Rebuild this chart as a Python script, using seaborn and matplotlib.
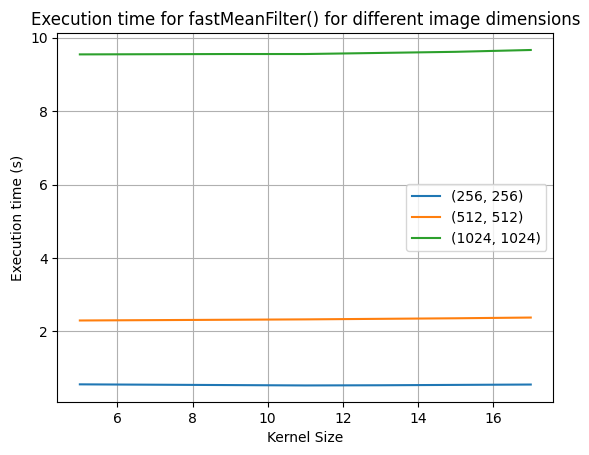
import matplotlib
matplotlib.use("Agg")
import matplotlib.pyplot as plt
import seaborn as sns
import pandas as pd

kernel_sizes = [5, 7, 9, 11, 13, 15, 17]
dimensions = ["(256, 256)", "(512, 512)", "(1024, 1024)"]
times_256 = [0.56, 0.55, 0.54, 0.53, 0.535, 0.545, 0.555]
times_512 = [2.30, 2.31, 2.32, 2.33, 2.345, 2.36, 2.38]
times_1024 = [9.55, 9.555, 9.56, 9.56, 9.59, 9.62, 9.67]

rows = []
for dim, vals in zip(dimensions, [times_256, times_512, times_1024]):
    for k, t in zip(kernel_sizes, vals):
        rows.append({"Kernel Size": k, "time": t, "dim": dim})
df = pd.DataFrame(rows)

fig, ax = plt.subplots(figsize=(5.89, 4.55), dpi=100)
fig.subplots_adjust(left=0.0973, right=0.9394, top=0.927, bottom=0.116)

sns.lineplot(data=df, x="Kernel Size", y="time", hue="dim", ax=ax,
             palette=["#1f77b4", "#ff7f0e", "#2ca02c"])
ax.set_title("Execution time for fastMeanFilter() for different image dimensions")
ax.set_xlabel("Kernel Size")
ax.set_ylabel("Execution time (s)")
ax.grid(True)
ax.legend(loc="center right", title=None)

fig.savefig("out.png", dpi=100)
